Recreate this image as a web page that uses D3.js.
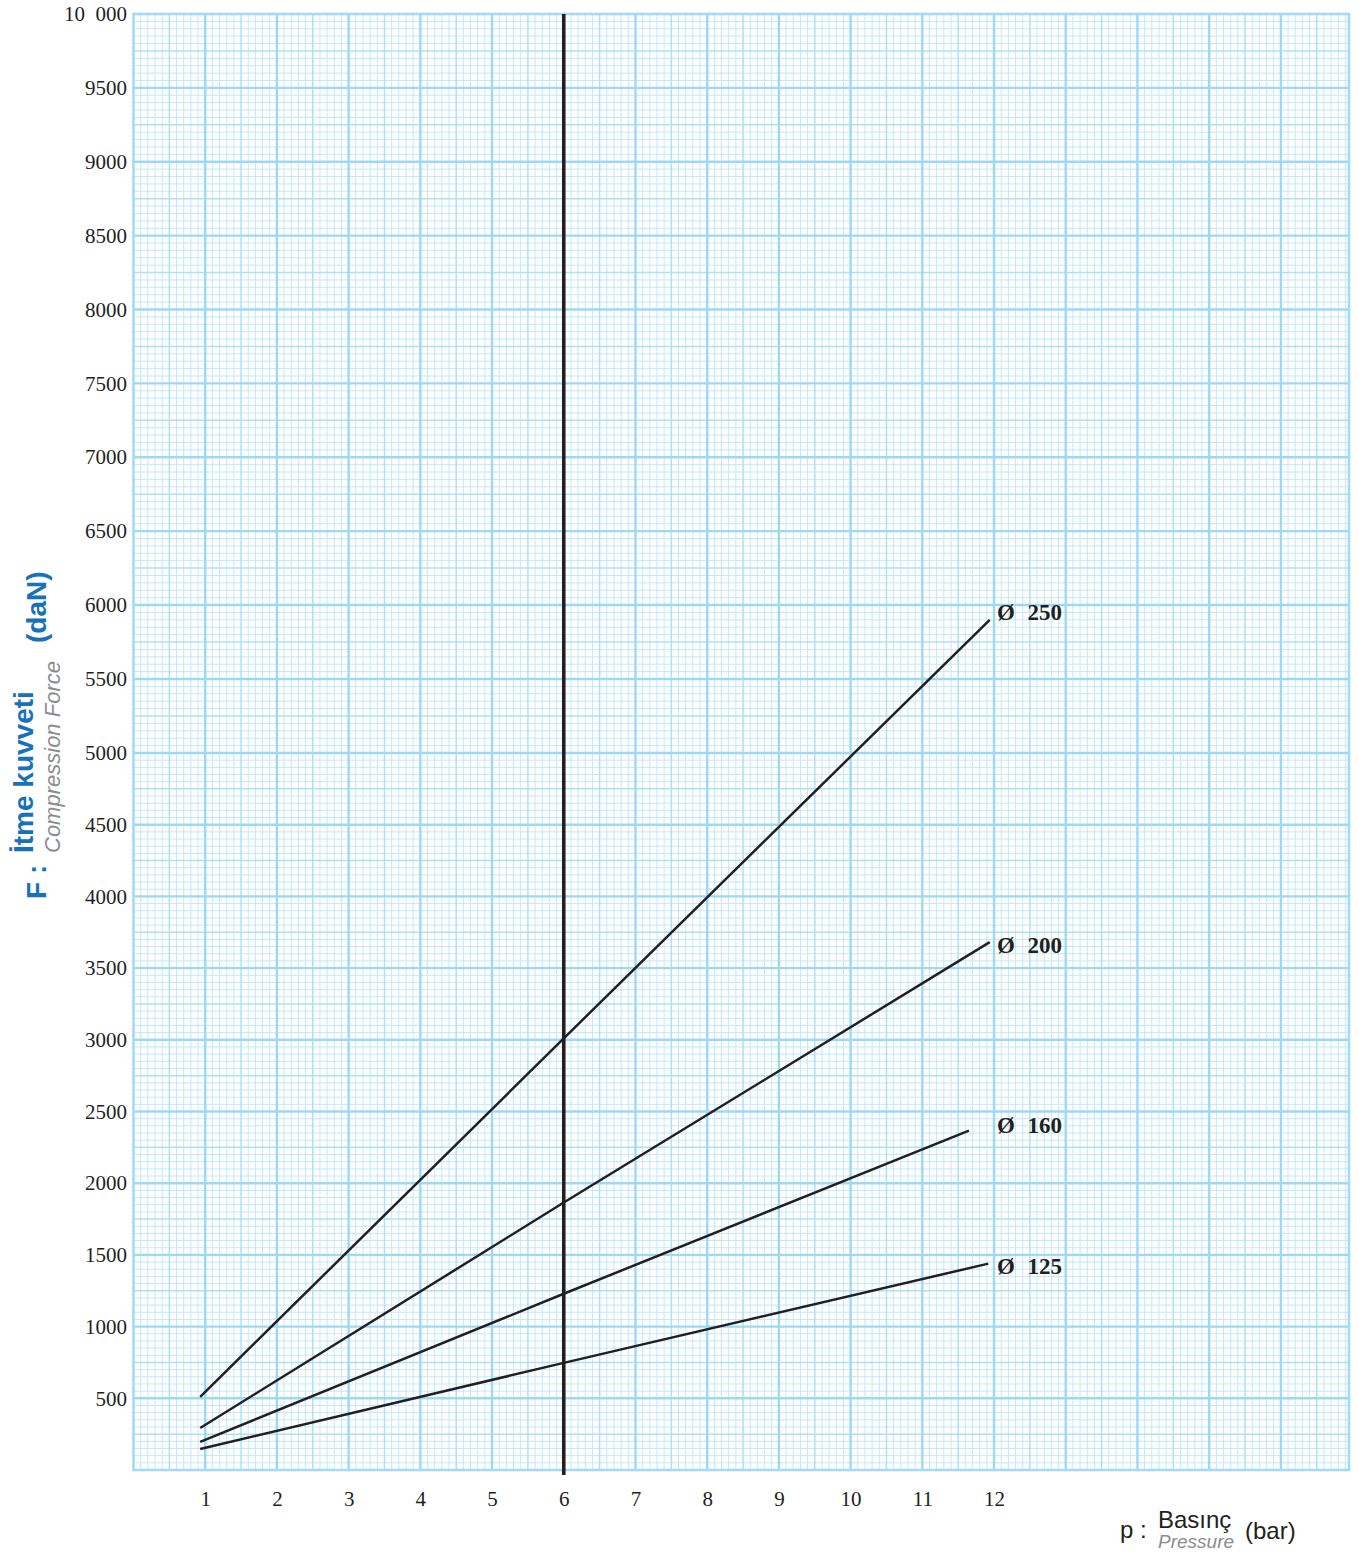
<!DOCTYPE html>
<html>
<head>
<meta charset="utf-8">
<script src="https://cdn.jsdelivr.net/npm/d3@7"></script>
<style>
  html, body { margin: 0; padding: 0; background: #ffffff; }
  svg { display: block; }
</style>
</head>
<body>
<svg id="chart" width="1363" height="1555"></svg>
<script>
// ---------- DATA ----------
const pressureTicks = [1, 2, 3, 4, 5, 6, 7, 8, 9, 10, 11, 12];
const forceTicks = [500, 1000, 1500, 2000, 2500, 3000, 3500, 4000, 4500, 5000,
                    5500, 6000, 6500, 7000, 7500, 8000, 8500, 9000, 9500, 10000];
const forceTickLabels = ["500", "1000", "1500", "2000", "2500", "3000", "3500", "4000", "4500", "5000",
                         "5500", "6000", "6500", "7000", "7500", "8000", "8500", "9000", "9500", "10  000"];
const seriesLabels = ["250", "200", "160", "125"];
const p250 = [0.93, 6, 11.94];
const f250 = [510, 3010, 5900];
const p200 = [0.93, 6, 11.94];
const f200 = [293, 1865, 3681];
const p160 = [0.93, 6, 11.65];
const f160 = [196, 1229, 2367];
const p125 = [0.93, 6, 11.92];
const f125 = [147, 747, 1439];
const markedPressure = 6;

const seriesP = [p250, p200, p160, p125];
const seriesF = [f250, f200, f160, f125];

// ---------- SCALES ----------
const svg = d3.select("#chart");
const xMax = 16.95;
const x = d3.scaleLinear().domain([0, xMax]).range([133.5, 1349]);
const y = d3.scaleLinear().domain([0, 5000, 6000, 10000]).range([1470, 753, 605, 14]);

const serif = "'Liberation Serif', 'Times New Roman', serif";
const sans = "'Liberation Sans', Arial, Helvetica, sans-serif";
const ink = "#231f20";
const blue = "#1872b8";
const gray = "#8a8c8e";

// ---------- GRID (graph paper) ----------
const grid = svg.append("g");
const xs = d3.range(1, 170).map(i => ({ v: i / 10, k: i % 10 === 0 ? 2 : (i % 5 === 0 ? 1 : 0) }));
const ys = d3.range(1, 200).map(i => ({ v: i * 50, k: i % 10 === 0 ? 2 : (i % 5 === 0 ? 1 : 0) }));
const gStyle = [
  { c: "#c2e8f9", w: 1 },
  { c: "#aee0f7", w: 1.5 },
  { c: "#9dd9f5", w: 2.4 }
];
[0, 1, 2].forEach(k => {
  grid.append("g").selectAll("line").data(xs.filter(d => d.k === k)).join("line")
    .attr("x1", d => x(d.v)).attr("x2", d => x(d.v))
    .attr("y1", y(10000)).attr("y2", y(0))
    .attr("stroke", gStyle[k].c).attr("stroke-width", gStyle[k].w);
  grid.append("g").selectAll("line").data(ys.filter(d => d.k === k)).join("line")
    .attr("x1", x(0)).attr("x2", x(xMax))
    .attr("y1", d => y(d.v)).attr("y2", d => y(d.v))
    .attr("stroke", gStyle[k].c).attr("stroke-width", gStyle[k].w);
});
grid.append("rect")
  .attr("x", x(0)).attr("y", y(10000))
  .attr("width", x(xMax) - x(0)).attr("height", y(0) - y(10000))
  .attr("fill", "none").attr("stroke", "#a3dbf6").attr("stroke-width", 2.6);

// ---------- MARKED PRESSURE LINE ----------
svg.append("line")
  .attr("x1", x(markedPressure)).attr("x2", x(markedPressure))
  .attr("y1", y(10000)).attr("y2", y(0) + 5)
  .attr("stroke", ink).attr("stroke-width", 3.6);

// ---------- SERIES ----------
const line = d3.line().x(d => x(d[0])).y(d => y(d[1]));
seriesP.forEach((ps, i) => {
  const pts = ps.map((p, j) => [p, seriesF[i][j]]);
  svg.append("path").attr("d", line(pts))
    .attr("fill", "none").attr("stroke", ink).attr("stroke-width", 2.5)
    .attr("stroke-linecap", "butt");
});

// series labels
const labelP = 12.04;
const labelOffsets = [0, 11, 2, 10];
seriesLabels.forEach((lab, i) => {
  const fs = seriesF[i];
  const endF = fs[fs.length - 1];
  const t = svg.append("text")
    .attr("x", x(labelP)).attr("y", y(endF) + labelOffsets[i])
    .attr("font-family", serif).attr("font-weight", "bold").attr("font-size", 23)
    .attr("fill", ink)
    .text("Ø");
  t.append("tspan").attr("dx", 7).text(" " + lab);
});

// ---------- AXES ----------
const yAxis = d3.axisLeft(y).tickValues(forceTicks).tickSize(0).tickPadding(3)
  .tickFormat((d, i) => forceTickLabels[i]);
const gy = svg.append("g").attr("transform", "translate(130,0)").call(yAxis);
gy.select(".domain").remove();
gy.selectAll("text")
  .attr("font-family", serif).attr("font-size", 21).attr("fill", ink)
  .style("white-space", "pre");

const xAxis = d3.axisBottom(x).tickValues(pressureTicks).tickSize(0).tickPadding(21)
  .tickFormat(d3.format("d"));
const gx = svg.append("g").attr("transform", `translate(0,${y(0)})`).call(xAxis);
gx.select(".domain").remove();
gx.selectAll("text")
  .attr("font-family", serif).attr("font-size", 21).attr("fill", ink);

// ---------- AXIS TITLES ----------
function vtext(xp, yp, txt, size, weight, style, color) {
  return svg.append("text")
    .attr("transform", `translate(${xp},${yp}) rotate(-90)`)
    .attr("font-family", sans).attr("font-size", size)
    .attr("font-weight", weight).attr("font-style", style)
    .attr("fill", color).text(txt);
}
vtext(46, 899, "F :", 28, "bold", "normal", blue);
vtext(33, 853, "İtme kuvveti", 28, "bold", "normal", blue);
vtext(60, 853, "Compression Force", 22, "normal", "italic", gray);
vtext(46, 643, "(daN)", 28, "bold", "normal", blue);

svg.append("text").attr("x", 1120).attr("y", 1538)
  .attr("font-family", sans).attr("font-size", 24).attr("fill", ink).text("p :");
svg.append("text").attr("x", 1158).attr("y", 1528)
  .attr("font-family", sans).attr("font-size", 24).attr("fill", ink).text("Basınç");
svg.append("text").attr("x", 1158).attr("y", 1548)
  .attr("font-family", sans).attr("font-size", 19).attr("font-style", "italic")
  .attr("fill", gray).text("Pressure");
svg.append("text").attr("x", 1245).attr("y", 1539)
  .attr("font-family", sans).attr("font-size", 24).attr("fill", ink).text("(bar)");
</script>
</body>
</html>
